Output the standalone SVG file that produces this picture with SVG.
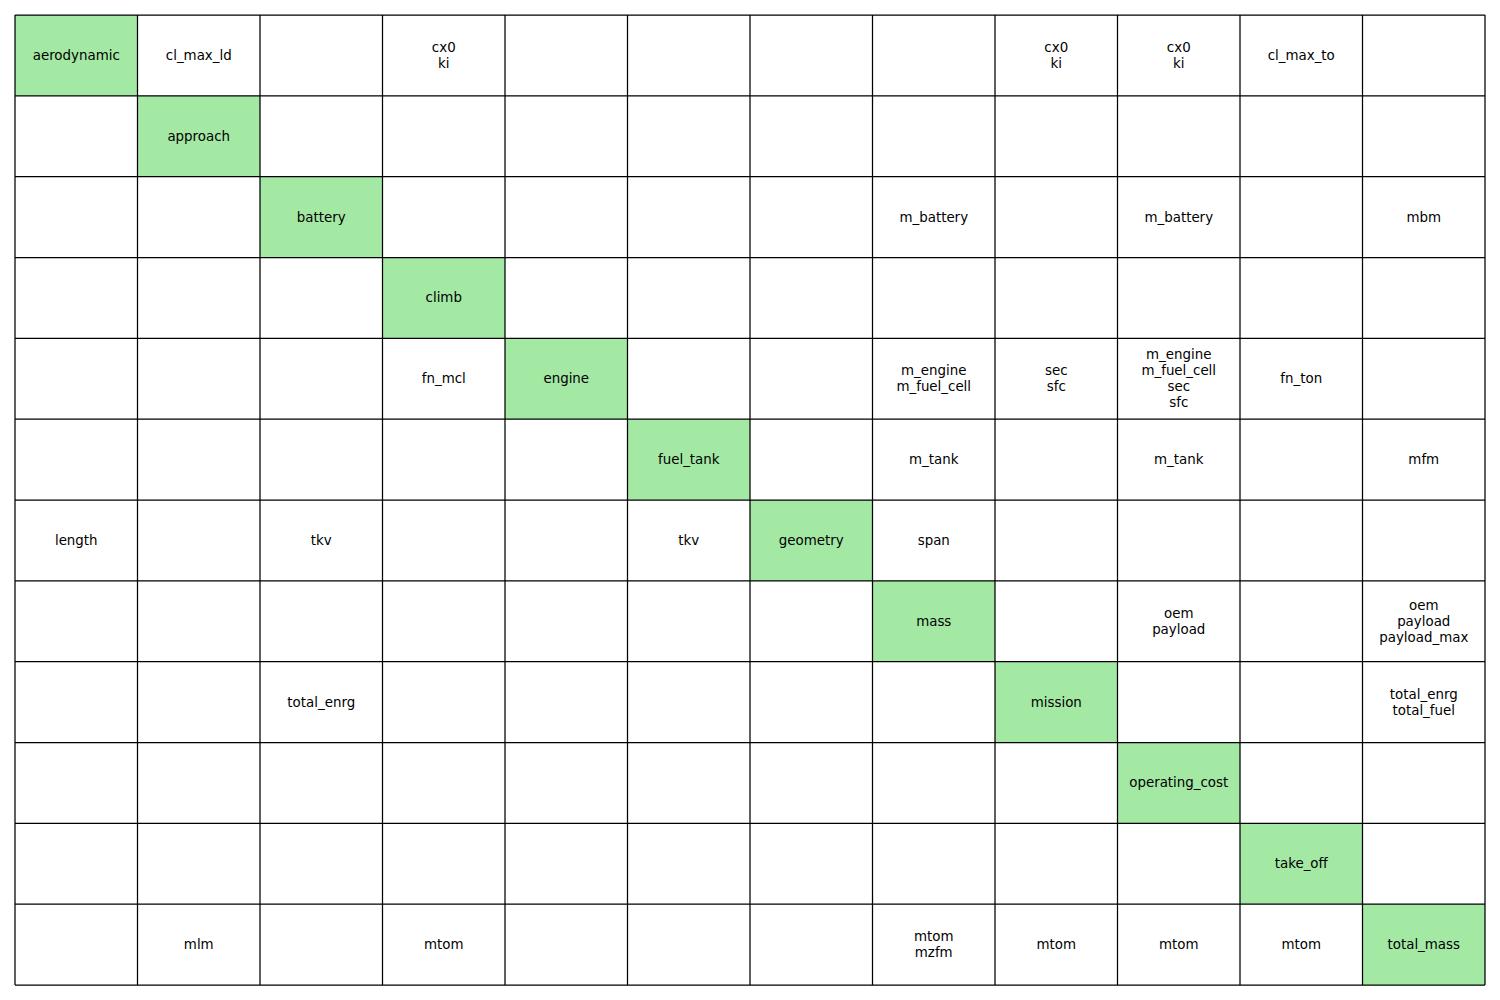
<svg xmlns="http://www.w3.org/2000/svg" width="1500" height="1000" viewBox="0 0 1500 1000">
<style>
text{font-family:"DejaVu Sans",sans-serif;font-size:13.4px;fill:#000;text-anchor:middle;dominant-baseline:central}
.d{fill:#a3e8a3;stroke:none}
.g{fill:none;stroke:#000;stroke-width:1.25}
</style>
<rect x="0" y="0" width="1500" height="1000" fill="#fff"/>
<g id="aerodynamic"><rect class="d" x="15" y="15" width="122.5" height="80.83"/><text x="76.25" y="55.42">aerodynamic</text></g>
<g id="approach"><rect class="d" x="137.5" y="95.83" width="122.5" height="80.83"/><text x="198.75" y="136.25">approach</text></g>
<g id="battery"><rect class="d" x="260" y="176.67" width="122.5" height="80.83"/><text x="321.25" y="217.08">battery</text></g>
<g id="climb"><rect class="d" x="382.5" y="257.5" width="122.5" height="80.83"/><text x="443.75" y="297.92">climb</text></g>
<g id="engine"><rect class="d" x="505" y="338.33" width="122.5" height="80.83"/><text x="566.25" y="378.75">engine</text></g>
<g id="fuel_tank"><rect class="d" x="627.5" y="419.17" width="122.5" height="80.83"/><text x="688.75" y="459.58">fuel_tank</text></g>
<g id="geometry"><rect class="d" x="750" y="500" width="122.5" height="80.83"/><text x="811.25" y="540.42">geometry</text></g>
<g id="mass"><rect class="d" x="872.5" y="580.83" width="122.5" height="80.83"/><text x="933.75" y="621.25">mass</text></g>
<g id="mission"><rect class="d" x="995" y="661.67" width="122.5" height="80.83"/><text x="1056.25" y="702.08">mission</text></g>
<g id="operating_cost"><rect class="d" x="1117.5" y="742.5" width="122.5" height="80.83"/><text x="1178.75" y="782.92">operating_cost</text></g>
<g id="take_off"><rect class="d" x="1240" y="823.33" width="122.5" height="80.83"/><text x="1301.25" y="863.75">take_off</text></g>
<g id="total_mass"><rect class="d" x="1362.5" y="904.17" width="122.5" height="80.83"/><text x="1423.75" y="944.58">total_mass</text></g>
<g id="connectors">
<text x="198.75" y="55.42">cl_max_ld</text>
<text x="443.75" y="47.42">cx0</text><text x="443.75" y="63.42">ki</text>
<text x="1056.25" y="47.42">cx0</text><text x="1056.25" y="63.42">ki</text>
<text x="1178.75" y="47.42">cx0</text><text x="1178.75" y="63.42">ki</text>
<text x="1301.25" y="55.42">cl_max_to</text>
<text x="933.75" y="217.08">m_battery</text>
<text x="1178.75" y="217.08">m_battery</text>
<text x="1423.75" y="217.08">mbm</text>
<text x="443.75" y="378.75">fn_mcl</text>
<text x="933.75" y="370.75">m_engine</text><text x="933.75" y="386.75">m_fuel_cell</text>
<text x="1056.25" y="370.75">sec</text><text x="1056.25" y="386.75">sfc</text>
<text x="1178.75" y="354.75">m_engine</text><text x="1178.75" y="370.75">m_fuel_cell</text><text x="1178.75" y="386.75">sec</text><text x="1178.75" y="402.75">sfc</text>
<text x="1301.25" y="378.75">fn_ton</text>
<text x="933.75" y="459.58">m_tank</text>
<text x="1178.75" y="459.58">m_tank</text>
<text x="1423.75" y="459.58">mfm</text>
<text x="76.25" y="540.42">length</text>
<text x="321.25" y="540.42">tkv</text>
<text x="688.75" y="540.42">tkv</text>
<text x="933.75" y="540.42">span</text>
<text x="1178.75" y="613.25">oem</text><text x="1178.75" y="629.25">payload</text>
<text x="1423.75" y="605.25">oem</text><text x="1423.75" y="621.25">payload</text><text x="1423.75" y="637.25">payload_max</text>
<text x="321.25" y="702.08">total_enrg</text>
<text x="1423.75" y="694.08">total_enrg</text><text x="1423.75" y="710.08">total_fuel</text>
<text x="198.75" y="944.58">mlm</text>
<text x="443.75" y="944.58">mtom</text>
<text x="933.75" y="936.58">mtom</text><text x="933.75" y="952.58">mzfm</text>
<text x="1056.25" y="944.58">mtom</text>
<text x="1178.75" y="944.58">mtom</text>
<text x="1301.25" y="944.58">mtom</text>
</g>
<path class="g" d="M15 15V985M137.5 15V985M260 15V985M382.5 15V985M505 15V985M627.5 15V985M750 15V985M872.5 15V985M995 15V985M1117.5 15V985M1240 15V985M1362.5 15V985M1485 15V985M15 15H1485M15 95.83H1485M15 176.67H1485M15 257.5H1485M15 338.33H1485M15 419.17H1485M15 500H1485M15 580.83H1485M15 661.67H1485M15 742.5H1485M15 823.33H1485M15 904.17H1485M15 985H1485"/>
</svg>
